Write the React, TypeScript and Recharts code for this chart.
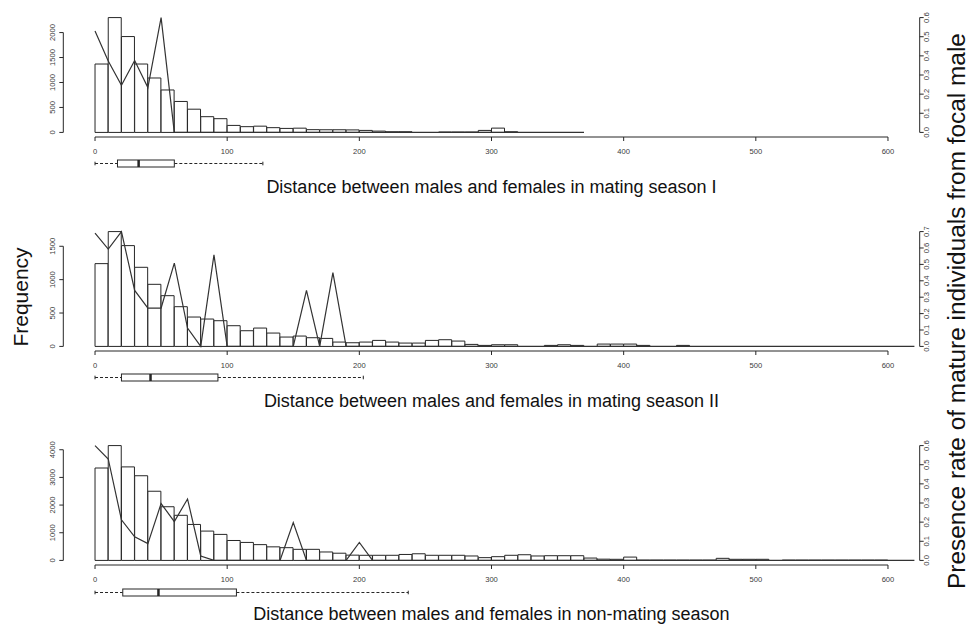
import { ComposedChart, Bar, Line, XAxis, YAxis, ReferenceLine } from "recharts";

const FONT = '"Liberation Sans", Arial, Helvetica, sans-serif';
const INK = "#262626";

const binWidth = 10;

// counts per 10-unit distance bin, first bin is 0–10
const countsSeasonI = [
  1370, 2300, 1920, 1370, 1090, 850, 620, 465, 315, 275,
  140, 115, 125, 95, 80, 85, 55, 53, 53, 50,
  40, 26, 13, 13, 0, 0, 7, 7, 7, 40,
  86, 13,
];
const countsSeasonII = [
  1240, 1720, 1510, 1185, 930, 760, 595, 440, 410, 385,
  310, 235, 275, 200, 140, 155, 130, 120, 65, 55,
  65, 90, 65, 50, 50, 90, 100, 80, 30, 15,
  25, 25, 0, 0, 15, 25, 15, 0, 35, 35,
  35, 15, 0, 0, 15,
];
const countsNonMating = [
  3340, 4150, 3380, 3060, 2500, 1940, 1630, 1300, 1060, 940,
  720, 650, 570, 490, 460, 400, 400, 305, 260, 190,
  185, 185, 185, 215, 240, 185, 185, 185, 160, 100,
  135, 185, 205, 160, 170, 170, 170, 85, 45, 40,
  120, 10, 10, 10, 10, 10, 10, 75, 40, 40,
  40, 0, 10, 10, 10, 10, 10, 10, 10, 10,
];

// presence rate, one value every 10 units starting at 0
const ratesSeasonI = [
  0.53, 0.373, 0.246, 0.376, 0.234, 0.6, 0, 0, 0, 0,
  0, 0, 0, 0, 0, 0, 0, 0, 0, 0,
  0, 0, 0, 0, 0, 0, 0, 0, 0, 0,
  0, 0, 0, 0, 0, 0, 0, 0,
];
const ratesSeasonII = [
  0.69, 0.593, 0.7, 0.341, 0.234, 0.234, 0.508, 0.112, 0, 0.558,
  0, 0, 0, 0, 0, 0, 0.341, 0, 0.45, 0,
  0, 0, 0, 0, 0, 0, 0, 0, 0, 0,
  0, 0, 0, 0, 0, 0, 0, 0, 0, 0,
  0, 0, 0, 0, 0, 0, 0, 0, 0, 0,
  0, 0, 0, 0, 0, 0, 0, 0, 0, 0,
  0, 0, 0,
];
const ratesNonMating = [
  0.6, 0.53, 0.212, 0.123, 0.088, 0.297, 0.203, 0.321, 0.023, 0,
  0, 0, 0, 0, 0, 0.198, 0, 0, 0, 0,
  0.094, 0, 0, 0, 0, 0, 0, 0, 0, 0,
  0, 0, 0, 0, 0, 0, 0, 0, 0, 0,
  0, 0, 0, 0, 0, 0, 0, 0, 0, 0,
  0, 0, 0, 0, 0, 0, 0, 0, 0, 0,
  0, 0, 0,
];

// boxplot: lower whisker, Q1, median, Q3, upper whisker
const boxSeasonI = [0, 17, 33, 60, 127];
const boxSeasonII = [0, 20, 42, 93, 203];
const boxNonMating = [0, 21, 48, 107, 237];

const distanceTicks = [0, 100, 200, 300, 400, 500, 600];
const countTicksI = [0, 500, 1000, 1500, 2000];
const countTicksII = [0, 500, 1000, 1500];
const countTicksNonMating = [0, 1000, 2000, 3000, 4000];
const rateTicksI = [0, 0.1, 0.2, 0.3, 0.4, 0.5, 0.6];
const rateTicksII = [0, 0.1, 0.2, 0.3, 0.4, 0.5, 0.6, 0.7];
const rateTicksNonMating = [0, 0.1, 0.2, 0.3, 0.4, 0.5, 0.6];

const titles = [
  "Distance between males and females in mating season I",
  "Distance between males and females in mating season II",
  "Distance between males and females in non-mating season",
];

// layout
const CHART_W = 970;
const PLOT_L = 63.3;
const PLOT_R = 919.7;
const PLOT_H = 124;
const X_DOMAIN: [number, number] = [-24, 624]; // 0..600 plus 4% each side
const AXIS_W = 20;
const AXIS_H = 20;
const TOP_PAD = 10;

const tickStyle = { fontSize: 7.6, fill: "#3a3a3a", fontFamily: FONT };

const DistanceTick = ({ x, y, payload }: any) => (
  <text x={x} y={y} textAnchor="middle" {...tickStyle}>
    {payload.value}
  </text>
);

const makeSideTick = (fmt: (v: number) => string) => ({ x, y, payload }: any) => (
  <text x={x} y={y} transform={`rotate(-90 ${x} ${y})`} textAnchor="middle" {...tickStyle}>
    {fmt(payload.value)}
  </text>
);

const countTick = makeSideTick((v) => String(v));
const rateTick = makeSideTick((v) => v.toFixed(1));

interface PanelProps {
  plotTop: number;
  counts: number[];
  rates: number[];
  countTicks: number[];
  rateTicks: number[];
}

const HistPanel = ({ plotTop, counts, rates, countTicks, rateTicks }: PanelProps) => {
  const cMax = Math.max(...counts);
  const rMax = Math.max(...rates);
  const countDomain: [number, number] = [-0.04 * cMax, 1.04 * cMax];
  const rateDomain: [number, number] = [-0.04 * rMax, 1.04 * rMax];

  const bins = counts.map((count, i) => ({ mid: i * binWidth + binWidth / 2, count }));
  const curve = rates.map((rate, i) => ({ d: i * binWidth, rate }));

  return (
    <div style={{ position: "absolute", left: 0, top: plotTop - TOP_PAD }}>
      <ComposedChart
        width={CHART_W}
        height={TOP_PAD + PLOT_H + AXIS_H}
        data={bins}
        barCategoryGap={0}
        barGap={0}
        margin={{ top: TOP_PAD, bottom: 0, left: PLOT_L - AXIS_W, right: CHART_W - PLOT_R - AXIS_W }}
        style={{ fontFamily: FONT }}
      >
        <XAxis xAxisId="bins" dataKey="mid" type="number" domain={X_DOMAIN} allowDataOverflow hide height={0} />
        <XAxis
          xAxisId="dist"
          dataKey="d"
          type="number"
          domain={X_DOMAIN}
          allowDataOverflow
          ticks={distanceTicks}
          interval={0}
          height={AXIS_H}
          axisLine={false}
          stroke={INK}
          tickLine={{ stroke: INK }}
          tickSize={4}
          tickMargin={13}
          tick={DistanceTick}
        />
        <YAxis
          yAxisId="count"
          orientation="left"
          type="number"
          domain={countDomain}
          allowDataOverflow
          ticks={countTicks}
          interval={0}
          width={AXIS_W}
          axisLine={false}
          stroke={INK}
          tickLine={{ stroke: INK }}
          tickSize={4}
          tickMargin={4}
          tick={countTick}
        />
        <YAxis
          yAxisId="rate"
          orientation="right"
          type="number"
          domain={rateDomain}
          allowDataOverflow
          ticks={rateTicks}
          interval={0}
          width={AXIS_W}
          axisLine={false}
          stroke={INK}
          tickLine={{ stroke: INK }}
          tickSize={4}
          tickMargin={5}
          tick={rateTick}
        />
        <Bar
          xAxisId="bins"
          yAxisId="count"
          dataKey="count"
          fill="#fff"
          stroke={INK}
          strokeWidth={1}
          isAnimationActive={false}
        />
        <Line
          xAxisId="dist"
          yAxisId="rate"
          data={curve}
          dataKey="rate"
          type="linear"
          stroke="#333"
          strokeWidth={1.2}
          dot={false}
          isAnimationActive={false}
        />
        {/* R-style axis lines: only as long as the tick range */}
        <ReferenceLine
          xAxisId="dist"
          yAxisId="count"
          segment={[{ x: distanceTicks[0], y: countDomain[0] }, { x: distanceTicks[distanceTicks.length - 1], y: countDomain[0] }]}
          stroke={INK}
          ifOverflow="visible"
        />
        <ReferenceLine
          xAxisId="dist"
          yAxisId="count"
          segment={[{ x: X_DOMAIN[0], y: countTicks[0] }, { x: X_DOMAIN[0], y: countTicks[countTicks.length - 1] }]}
          stroke={INK}
          ifOverflow="visible"
        />
        <ReferenceLine
          xAxisId="dist"
          yAxisId="rate"
          segment={[{ x: X_DOMAIN[1], y: rateTicks[0] }, { x: X_DOMAIN[1], y: rateTicks[rateTicks.length - 1] }]}
          stroke={INK}
          ifOverflow="visible"
        />
      </ComposedChart>
    </div>
  );
};

const BoxShape = (props: any) => {
  const { x, y, width, height, payload } = props;
  const [lo, hi] = payload.span;
  const k = width / (hi - lo);
  const px = (v: number) => x + (v - lo) * k;
  const cy = y + height / 2;
  const staple = 1.8;
  return (
    <g stroke={INK} fill="none">
      <line x1={px(lo)} x2={px(payload.q1)} y1={cy} y2={cy} strokeDasharray="3 2" />
      <line x1={px(payload.q3)} x2={px(hi)} y1={cy} y2={cy} strokeDasharray="3 2" />
      <line x1={px(lo)} x2={px(lo)} y1={cy - staple} y2={cy + staple} />
      <line x1={px(hi)} x2={px(hi)} y1={cy - staple} y2={cy + staple} />
      <rect x={px(payload.q1)} y={y} width={px(payload.q3) - px(payload.q1)} height={height} fill="#fff" />
      <line x1={px(payload.median)} x2={px(payload.median)} y1={y} y2={y + height} strokeWidth={2.5} />
    </g>
  );
};

const BoxStrip = ({ centerY, stats }: { centerY: number; stats: number[] }) => {
  const rows = [{ name: "box", span: [stats[0], stats[4]], q1: stats[1], median: stats[2], q3: stats[3] }];
  return (
    <div style={{ position: "absolute", left: 0, top: centerY - 8 }}>
      <ComposedChart
        width={CHART_W}
        height={16}
        layout="vertical"
        data={rows}
        margin={{ top: 0, bottom: 0, left: PLOT_L, right: CHART_W - PLOT_R }}
      >
        <XAxis type="number" domain={X_DOMAIN} allowDataOverflow hide height={0} />
        <YAxis type="category" dataKey="name" hide width={0} />
        <Bar dataKey="span" barSize={7} shape={BoxShape} isAnimationActive={false} />
      </ComposedChart>
    </div>
  );
};

const panels = [
  { plotTop: 12.9, counts: countsSeasonI, rates: ratesSeasonI, countTicks: countTicksI, rateTicks: rateTicksI, box: boxSeasonI, boxY: 163, titleY: 193.3 },
  { plotTop: 227.3, counts: countsSeasonII, rates: ratesSeasonII, countTicks: countTicksII, rateTicks: rateTicksII, box: boxSeasonII, boxY: 377.3, titleY: 406.6 },
  { plotTop: 440.6, counts: countsNonMating, rates: ratesNonMating, countTicks: countTicksNonMating, rateTicks: rateTicksNonMating, box: boxNonMating, boxY: 592, titleY: 620 },
];

export default function App() {
  return (
    <div style={{ position: "absolute", left: 0, top: 0, width: 970, height: 628, background: "#fff", overflow: "hidden" }}>
      {panels.map((p, i) => (
        <div key={i}>
          <HistPanel plotTop={p.plotTop} counts={p.counts} rates={p.rates} countTicks={p.countTicks} rateTicks={p.rateTicks} />
          <BoxStrip centerY={p.boxY} stats={p.box} />
        </div>
      ))}
      <svg width={970} height={628} style={{ position: "absolute", left: 0, top: 0, pointerEvents: "none" }} fontFamily={FONT}>
        {panels.map((p, i) => (
          <text key={i} x={(PLOT_L + PLOT_R) / 2} y={p.titleY} textAnchor="middle" fontSize={18} fill="#111">
            {titles[i]}
          </text>
        ))}
        <text x={28} y={297} transform="rotate(-90 28 297)" textAnchor="middle" fontSize={21} fill="#111">
          Frequency
        </text>
        <text x={965} y={311} transform="rotate(-90 965 311)" textAnchor="middle" fontSize={24.4} fill="#111">
          Presence rate of mature individuals from focal male
        </text>
      </svg>
    </div>
  );
}
